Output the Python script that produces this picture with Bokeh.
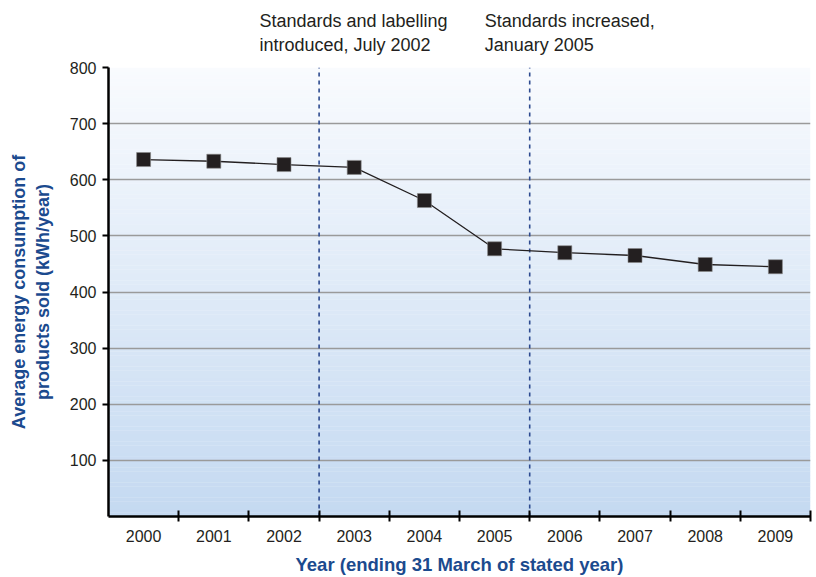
import numpy as np
from bokeh.plotting import figure
from bokeh.layouts import column
from bokeh.models import FixedTicker, ColumnDataSource, Range1d
from bokeh.core.properties import value
from bokeh.embed import file_html
from bokeh.resources import INLINE

# ---- data ----
years = ["2000", "2001", "2002", "2003", "2004", "2005", "2006", "2007", "2008", "2009"]
consumption = [636, 633, 627, 622, 563, 477, 470, 465, 449, 445]
y_ticks = [100, 200, 300, 400, 500, 600, 700, 800]
events = ["Standards and labelling\nintroduced, July 2002", "Standards increased,\nJanuary 2005"]
event_pos = [2.5, 5.5]          # boundaries between categories (2002|2003, 2005|2006)
event_text_x = [1.65, 4.86]     # left edge of the explanatory texts

FONT = "Liberation Sans"
TITLE_BLUE = "#1b4a8e"
TXT = "#231f20"
YMAX = 800
TOP_H = 55
MAIN_H = 577 - TOP_H

xs = list(range(len(years)))
xr = Range1d(-0.5, len(years) - 0.5)

p = figure(width=816, height=MAIN_H, output_backend="svg", toolbar_location=None,
           x_range=xr, y_range=(0, YMAX),
           min_border_left=108, min_border_right=6, min_border_top=12, min_border_bottom=61)
p.outline_line_color = None
p.background_fill_color = "white"
p.border_fill_color = "white"

# gradient background (white at top to light blue at bottom)
n = 120
edges = np.linspace(0, YMAX, n + 1)
top_c = np.array([249, 251, 254])
bot_c = np.array([196, 217, 241])
cols = []
for i in range(n):
    t = (edges[i] + edges[i + 1]) / 2 / YMAX
    c = bot_c + (top_c - bot_c) * t
    cols.append("#%02x%02x%02x" % tuple(int(round(v)) for v in c))
tops = np.minimum(edges[1:] + 0.5, YMAX)
p.quad(left=-0.5, right=len(years) - 0.5, bottom=edges[:-1], top=tops,
       fill_color=cols, line_color=None, level="image")

# grid
p.xgrid.visible = False
p.ygrid.ticker = FixedTicker(ticks=y_ticks)
p.ygrid.grid_line_color = "#9a9a9a"
p.ygrid.grid_line_width = 1.3

# y axis
yax = p.yaxis[0]
yax.ticker = FixedTicker(ticks=y_ticks)
yax.axis_line_color = "black"
yax.axis_line_width = 2.5
yax.major_tick_line_color = "black"
yax.major_tick_line_width = 2
yax.major_tick_in = 0
yax.major_tick_out = 6
yax.minor_tick_line_color = None
yax.major_label_standoff = 6
yax.major_label_text_font = FONT
yax.major_label_text_font_size = "16px"
yax.major_label_text_color = TXT
yax.axis_label = "Average energy consumption of\nproducts sold (kWh/year)"
yax.axis_label_text_font = FONT
yax.axis_label_text_font_size = "18px"
yax.axis_label_text_font_style = "bold"
yax.axis_label_text_color = TITLE_BLUE
yax.axis_label_standoff = 14

# x axis: labels at centres, ticks at category boundaries (minor ticks)
xax = p.xaxis[0]
xax.ticker = FixedTicker(ticks=xs, minor_ticks=[i + 0.5 for i in range(len(years))])
xax.major_label_overrides = {i: y for i, y in enumerate(years)}
xax.axis_line_color = "black"
xax.axis_line_width = 2.5
xax.major_tick_line_color = None
xax.major_tick_in = 0
xax.major_tick_out = 0
xax.minor_tick_line_color = "black"
xax.minor_tick_line_width = 2
xax.minor_tick_in = 6
xax.minor_tick_out = 5
xax.major_label_standoff = 8
xax.major_label_text_font = FONT
xax.major_label_text_font_size = "16px"
xax.major_label_text_color = TXT
xax.axis_label = "Year (ending 31 March of stated year)"
xax.axis_label_text_font = FONT
xax.axis_label_text_font_size = "18.5px"
xax.axis_label_text_font_style = "bold"
xax.axis_label_text_color = TITLE_BLUE
xax.axis_label_standoff = 9

# event lines
p.segment(x0=event_pos, y0=0, x1=event_pos, y1=YMAX, line_color="#2d4a8f",
          line_width=1.6, line_dash="4 4")

# data
src = ColumnDataSource(dict(x=xs, y=consumption))
p.line("x", "y", source=src, line_color="#231f20", line_width=1.3)
p.scatter("x", "y", source=src, marker="square", size=14, fill_color="#231f20",
          line_color="#8a8a8a", line_width=0.6)

# explanatory texts above the plot area (separate strip sharing the x range)
top = figure(width=816, height=TOP_H, output_backend="svg", toolbar_location=None,
             x_range=xr, y_range=(0, 1), x_axis_location=None, y_axis_location=None,
             min_border_left=108, min_border_right=6, min_border_top=0, min_border_bottom=0)
top.outline_line_color = None
top.grid.visible = False
top.background_fill_color = "white"
top.border_fill_color = "white"
top.text(x=event_text_x, y=1 - 10 / TOP_H, text=events, text_font=value(FONT),
         text_font_size="18px", text_color=TXT, text_align="left", text_baseline="top",
         text_line_height=1.2)

layout = column(top, p, spacing=0)
open("out.html", "w").write(file_html(layout, INLINE))
